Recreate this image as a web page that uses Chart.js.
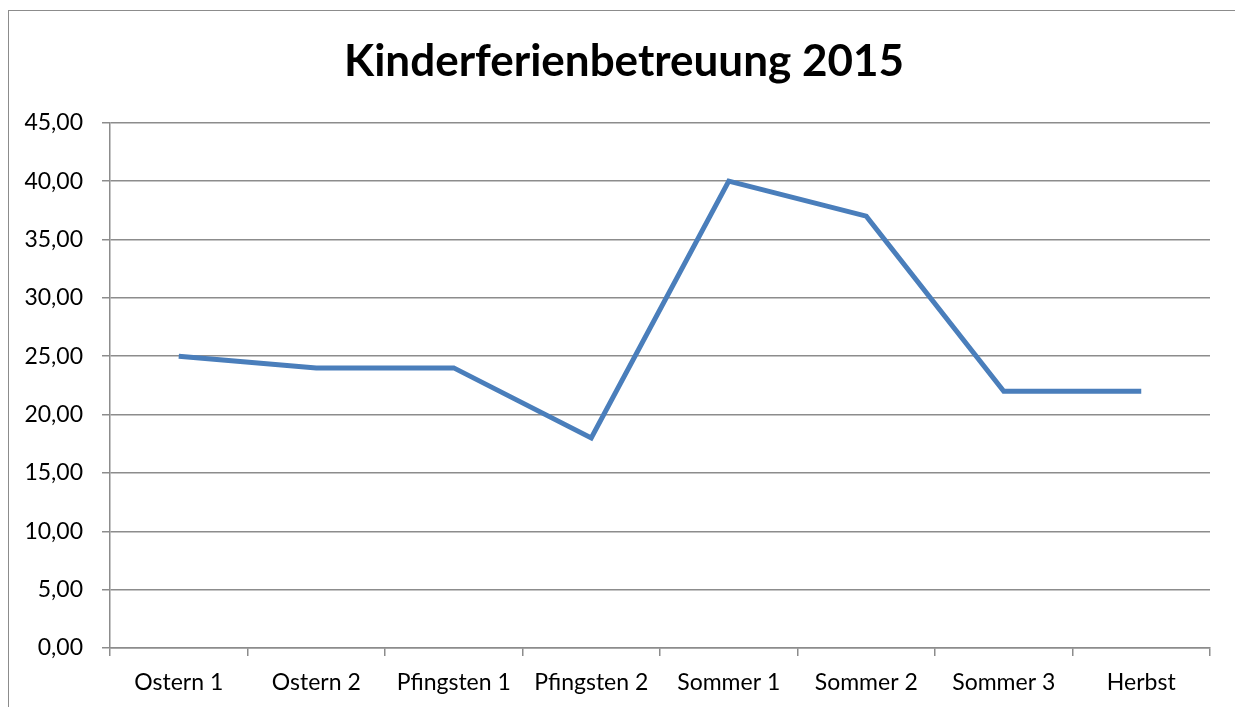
<!DOCTYPE html>
<html>
<head>
<meta charset="utf-8">
<script src="https://cdn.jsdelivr.net/npm/chart.js@4.4.1/dist/chart.umd.min.js"></script>
<style>
  html, body { margin: 0; padding: 0; background: #fff; overflow: hidden; }
  #wrap { position: relative; width: 1235px; height: 707px; overflow: hidden; }
  #frame { position: absolute; left: 8px; top: 10px; width: 1300px; height: 760px; border: 1.5px solid #8c8c8c; box-sizing: border-box; }
  canvas { position: absolute; left: 0; top: 0; }
</style>
</head>
<body>
<div id="wrap">
  <div id="frame"></div>
  <canvas id="c" width="1235" height="707"></canvas>
</div>
<script>
const categories = ["Ostern 1", "Ostern 2", "Pfingsten 1", "Pfingsten 2", "Sommer 1", "Sommer 2", "Sommer 3", "Herbst"];
const values = [25, 24, 24, 18, 40, 37, 22, 22];
const chartTitle = "Kinderferienbetreuung 2015";
const yMin = 0, yMax = 45, yStep = 5;

const FONT = "Lato, 'Open Sans', sans-serif";

// shift the title block so it is centred like the original (frame-centred)
const titleShift = {
  id: 'titleShift',
  afterLayout(chart) {
    const t = chart.titleBlock;
    if (t) { t.left = 38; t.right = chart.chartArea.right; }
  }
};

new Chart(document.getElementById('c'), {
  type: 'line',
  data: {
    labels: categories,
    datasets: [{
      data: values,
      borderColor: '#4A7EBB',
      borderWidth: 5,
      borderJoinStyle: 'miter',
      pointRadius: 0,
      tension: 0,
      fill: false
    }]
  },
  options: {
    responsive: false,
    animation: false,
    layout: { padding: { left: 0, right: 25, top: 0, bottom: 0 } },
    plugins: {
      legend: { display: false },
      tooltip: { enabled: false },
      title: {
        display: true,
        text: chartTitle,
        color: '#000',
        font: { family: FONT, size: 44, weight: 'bold', lineHeight: 1.2 },
        padding: { top: 35, bottom: 35 }
      }
    },
    scales: {
      x: {
        type: 'category',
        offset: true,
        grid: { display: true, drawOnChartArea: false, drawTicks: true, tickLength: 8, color: '#8c8c8c', lineWidth: 1.5, offset: true },
        border: { display: true, color: '#8c8c8c', width: 1.5 },
        ticks: { color: '#000', font: { family: FONT, size: 23 }, padding: 13, maxRotation: 0, autoSkip: false },
        afterFit: (s) => { s.height = 59; }
      },
      y: {
        min: yMin, max: yMax,
        grid: { color: '#8c8c8c', lineWidth: 1.5, drawTicks: true, tickLength: 8 },
        border: { display: true, color: '#8c8c8c', width: 1.5 },
        ticks: {
          stepSize: yStep, color: '#000', font: { family: FONT, size: 23 }, padding: 19,
          callback: (v) => v.toFixed(2).replace('.', ',')
        },
        afterFit: (s) => { s.width = 110; }
      }
    }
  },
  plugins: [titleShift]
});
</script>
</body>
</html>
